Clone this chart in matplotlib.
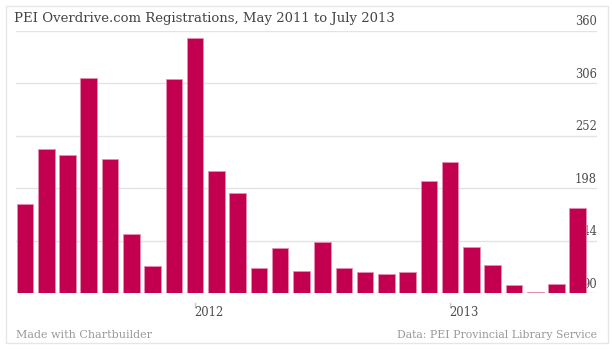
import matplotlib
matplotlib.use("Agg")
import matplotlib.pyplot as plt
from matplotlib.patches import Rectangle
from matplotlib.lines import Line2D
import matplotlib.transforms as mtransforms

# ---- data ----
months = ["May 2011", "Jun 2011", "Jul 2011", "Aug 2011", "Sep 2011", "Oct 2011", "Nov 2011", "Dec 2011",
          "Jan 2012", "Feb 2012", "Mar 2012", "Apr 2012", "May 2012", "Jun 2012", "Jul 2012", "Aug 2012",
          "Sep 2012", "Oct 2012", "Nov 2012", "Dec 2012",
          "Jan 2013", "Feb 2013", "Mar 2013", "Apr 2013", "May 2013", "Jun 2013", "Jul 2013"]
registrations = [182, 238, 232, 311, 228, 151, 118, 310, 352, 216, 193, 116, 137, 113,
                 143, 116, 112, 110, 112, 205, 225, 138, 119, 99, 91, 100, 178]
y_ticks = [90, 144, 198, 252, 306, 360]
year_ticks = ["Jan 2012", "Jan 2013"]
year_labels = ["2012", "2013"]

W, H = 612, 350
fig = plt.figure(figsize=(W / 100, H / 100), dpi=100)
fig.patch.set_facecolor("white")

def fx(px):
    return px / W

def fy(py):
    return 1 - py / H

serif = "DejaVu Serif"

# outer frame
fig.add_artist(Rectangle((fx(5.5), fy(343.3)), fx(608) - fx(5.5), fy(5.7) - fy(343.3),
                         transform=fig.transFigure, fill=False, edgecolor="#e6e6e6", linewidth=1))

ax_left, ax_right = 16, 597
ax_top, ax_bottom = 30.7, 293.3
ax = fig.add_axes([fx(ax_left), fy(ax_bottom), fx(ax_right) - fx(ax_left), fy(ax_top) - fy(ax_bottom)])
ax.set_facecolor("none")
for s in ax.spines.values():
    s.set_visible(False)

x = list(range(len(months)))
pitch = 21.26
ax.set_xlim((ax_left - 25) / pitch, (ax_right - 25) / pitch)
ax.set_ylim(90, 360)
ax.set_xticks([])
ax.set_yticks([])

for v in y_ticks:
    ax.axhline(v, color="#e3e3e3", linewidth=1, zorder=0)

# y tick labels on the right, above gridlines, beneath bars
trans_lbl = mtransforms.blended_transform_factory(ax.transAxes, ax.transData)
off = mtransforms.offset_copy(trans_lbl, fig=fig, x=0, y=2.5, units="dots")
for v in y_ticks:
    ax.text(1.0, v, str(v), transform=off, ha="right", va="bottom",
            fontsize=8.3, color="#4d4d4d", family=serif, zorder=1)

ax.bar(x, registrations, width=0.78, bottom=0, color="#c2004f",
       edgecolor="#e58fb2", linewidth=0.6, zorder=2)

# year ticks and labels
tb = mtransforms.blended_transform_factory(ax.transData, fig.transFigure)
for m, lab in zip(year_ticks, year_labels):
    i = months.index(m)
    fig.add_artist(Line2D([i, i], [fy(302.5), fy(307)], transform=tb, color="#c8c8c8", linewidth=1))
    fig.text(i - 0.03, fy(313), lab, transform=tb,
             ha="left", va="center", fontsize=8.4, color="#4d4d4d", family=serif)

# title
fig.text(fx(13.5), fy(18.5), "PEI Overdrive.com Registrations, May 2011 to July 2013",
         ha="left", va="center", fontsize=9.5, color="#444444", family=serif)

# footer
fig.text(fx(16.5), fy(335.5), "Made with Chartbuilder", ha="left", va="center",
         fontsize=8.0, color="#999999", family=serif)
fig.text(fx(597), fy(335.5), "Data: PEI Provincial Library Service", ha="right", va="center",
         fontsize=7.8, color="#999999", family=serif)

fig.savefig("out.png", dpi=100, facecolor="white")
